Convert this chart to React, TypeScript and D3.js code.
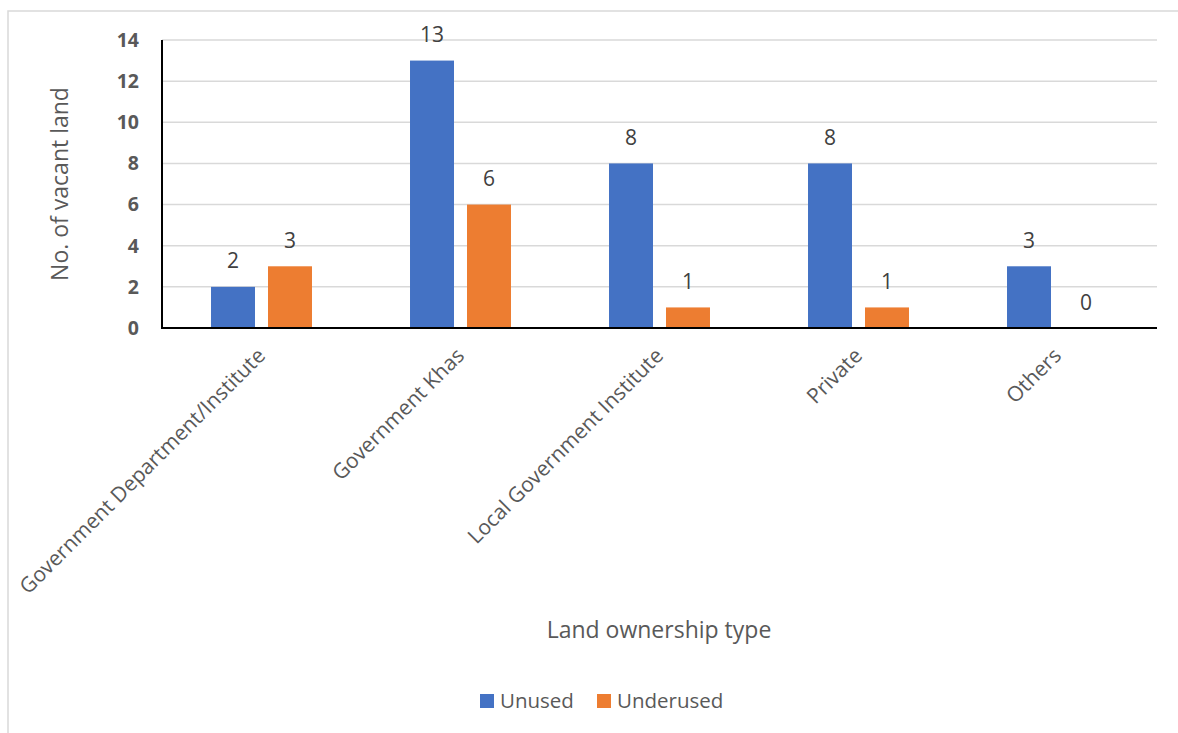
import React from "react";
import * as d3 from "d3";

// Land ownership categories and vacant-land counts per series
const categories = [
  "Government Department/Institute",
  "Government Khas",
  "Local Government Institute",
  "Private",
  "Others",
];
const seriesNames = ["Unused", "Underused"];
const unusedValues = [2, 13, 8, 8, 3];
const underusedValues = [3, 6, 1, 1, 0];
const yTicks = [0, 2, 4, 6, 8, 10, 12, 14];
const seriesColors = ["#4472C4", "#ED7D31"];

const W = 1178;
const H = 733;
const plot = { left: 162, right: 1157, top: 40, bottom: 328 };
const FONT = "'Open Sans', 'DejaVu Sans', sans-serif";

export default function App() {
  const x0 = d3
    .scaleBand<string>()
    .domain(categories)
    .range([plot.left, plot.right])
    .paddingInner(0)
    .paddingOuter(0);

  const x1 = d3
    .scaleBand<string>()
    .domain(seriesNames)
    .range([0, x0.bandwidth()])
    .paddingInner(13 / 57)
    .paddingOuter(0.86);

  const y = d3.scaleLinear().domain([0, 14]).range([plot.bottom, plot.top]);

  const series = [unusedValues, underusedValues];

  return (
    <svg
      width={W}
      height={H}
      style={{ position: "absolute", left: 0, top: 0, background: "#fff" }}
      fontFamily={FONT}
    >
      {/* chart frame */}
      <rect x={8} y={11} width={1200} height={760} fill="#fff" stroke="#d9d9d9" strokeWidth={1.5} />

      {/* gridlines */}
      {yTicks.map((t) =>
        t === 0 ? null : (
          <line
            key={"g" + t}
            x1={plot.left}
            x2={plot.right}
            y1={y(t)}
            y2={y(t)}
            stroke="#d9d9d9"
            strokeWidth={1.5}
          />
        )
      )}

      {/* bars */}
      {categories.map((c, i) =>
        seriesNames.map((s, j) => {
          const v = series[j][i];
          const bx = (x0(c) ?? 0) + (x1(s) ?? 0);
          return (
            <g key={c + s}>
              {v > 0 && (
                <rect
                  x={bx}
                  y={y(v)}
                  width={x1.bandwidth()}
                  height={y(0) - y(v)}
                  fill={seriesColors[j]}
                />
              )}
              <text
                x={bx + x1.bandwidth() / 2}
                y={y(v) - 18.5}
                textAnchor="middle"
                fontSize={21}
                fill="#404040"
              >
                {v}
              </text>
            </g>
          );
        })
      )}

      {/* axes */}
      <line x1={plot.left} x2={plot.left} y1={plot.top} y2={plot.bottom + 1} stroke="#000" strokeWidth={2} />
      <line x1={plot.left - 1} x2={plot.right} y1={plot.bottom} y2={plot.bottom} stroke="#000" strokeWidth={2} />

      {/* y tick labels */}
      {yTicks.map((t) => (
        <text
          key={"t" + t}
          x={139}
          y={y(t)}
          dy="0.35em"
          textAnchor="end"
          fontSize={19.5}
          fontWeight="bold"
          fill="#595959"
        >
          {t}
        </text>
      ))}

      {/* category labels */}
      {categories.map((c) => {
        const cx = (x0(c) ?? 0) + x0.bandwidth() / 2;
        return (
          <text
            key={"c" + c}
            transform={`translate(${cx + 5},357) rotate(-45)`}
            textAnchor="end"
            fontSize={21}
            fill="#595959"
          >
            {c}
          </text>
        );
      })}

      {/* axis titles */}
      <text
        transform={`translate(68,${(plot.top + plot.bottom) / 2}) rotate(-90)`}
        textAnchor="middle"
        fontSize={23}
        fill="#595959"
      >
        No. of vacant land
      </text>
      <text x={659} y={638} textAnchor="middle" fontSize={23} fill="#595959">
        Land ownership type
      </text>

      {/* legend */}
      {seriesNames.map((s, j) => {
        const lx = j === 0 ? 480 : 597;
        return (
          <g key={"l" + s}>
            <rect x={lx} y={694} width={14} height={14} fill={seriesColors[j]} />
            <text x={lx + 20} y={707.5} fontSize={20.5} fill="#595959">
              {s}
            </text>
          </g>
        );
      })}
    </svg>
  );
}
